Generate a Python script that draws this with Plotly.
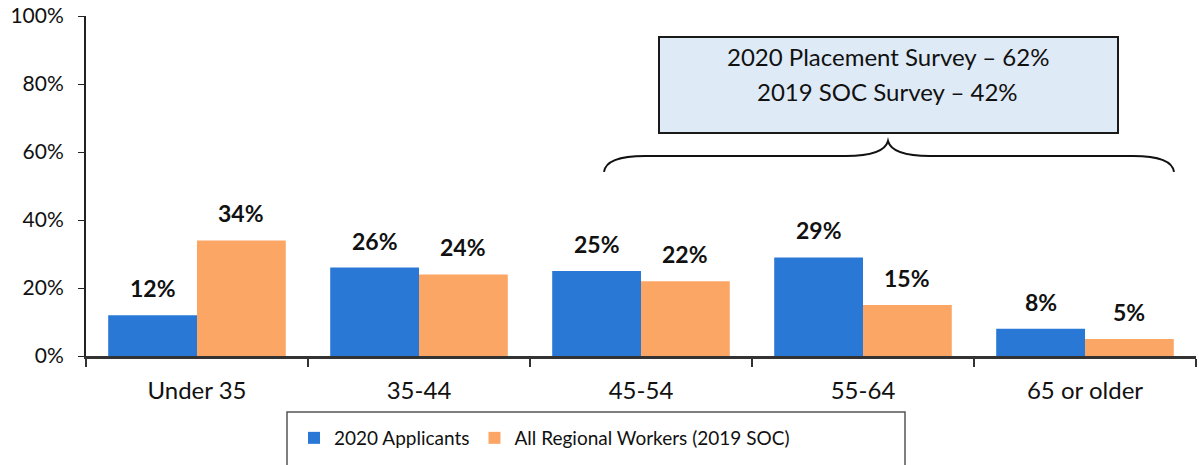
import plotly.graph_objects as go

categories = ["Under 35", "35-44", "45-54", "55-64", "65 or older"]
applicants_2020 = [0.12, 0.26, 0.25, 0.29, 0.08]
regional_2019 = [0.34, 0.24, 0.22, 0.15, 0.05]
series_names = ["2020 Applicants", "All Regional Workers (2019 SOC)"]
callout_lines = ["2020 Placement Survey \u2013 62%", "2019 SOC Survey \u2013 42%"]

BLUE = "#2a78d5"
ORANGE = "#fca666"
FONT = "Lato"

W, H = 1199, 465
L, R, T, B = 86, 1196, 16, 356


def px(x):
    return (x - L) / (R - L)


def py(y):
    return (B - y) / (B - T)


fig = go.Figure()
fig.add_trace(go.Bar(x=categories, y=applicants_2020, name=series_names[0],
                     marker=dict(color=BLUE, line=dict(width=0))))
fig.add_trace(go.Bar(x=categories, y=regional_2019, name=series_names[1],
                     marker=dict(color=ORANGE, line=dict(width=0))))

annotations = []
for i, (a, b) in enumerate(zip(applicants_2020, regional_2019)):
    for off, v in ((-0.2, a), (0.2, b)):
        annotations.append(dict(x=i + off, y=v, xref="x", yref="y",
                                text=f"<b>{round(v * 100)}%</b>", showarrow=False,
                                xanchor="center", yanchor="bottom", yshift=11,
                                font=dict(family=FONT, size=23, color="#111111")))

# callout text
for line, yy in zip(callout_lines, (56, 91)):
    annotations.append(dict(x=px(888), y=py(yy), xref="paper", yref="paper",
                            text=line, showarrow=False, xanchor="center",
                            yanchor="middle",
                            font=dict(family=FONT, size=24, color="#111111")))


def P(x, y):
    return f"{px(x):.5f},{py(y):.5f}"


brace = (f"M{P(604,172)} Q{P(606,156)} {P(645,156)} L{P(846,156)} "
         f"Q{P(884,156)} {P(888,141)} Q{P(892,156)} {P(930,156)} "
         f"L{P(1133,156)} Q{P(1172,156)} {P(1174,172)}")

shapes = [
    dict(type="rect", xref="paper", yref="paper", x0=px(659), x1=px(1118),
         y0=py(133), y1=py(37), fillcolor="#deeaf6",
         line=dict(color="#1a1a1a", width=2), layer="below"),
    dict(type="path", xref="paper", yref="paper", path=brace,
         line=dict(color="#111111", width=2)),
    dict(type="rect", xref="paper", yref="paper", x0=px(287), x1=px(905),
         y0=py(475), y1=py(412), fillcolor="rgba(0,0,0,0)",
         line=dict(color="#555555", width=1.5)),
]

fig.update_layout(
    width=W, height=H,
    margin=dict(l=L, r=W - R, t=T, b=H - B, autoexpand=False),
    paper_bgcolor="white", plot_bgcolor="white",
    barmode="group", bargap=0.2, bargroupgap=0,
    font=dict(family=FONT, color="#111111"),
    showlegend=True,
    legend=dict(orientation="h", x=px(294), y=py(419), xanchor="left", yanchor="top",
                font=dict(family=FONT, size=19, color="#111111"),
                bgcolor="rgba(0,0,0,0)", borderwidth=0, itemwidth=30,
                traceorder="normal"),
    xaxis=dict(type="category", showline=True, linecolor="#333333", linewidth=3,
               ticks="outside", tickson="boundaries", ticklen=8, tickcolor="#333333",
               tickwidth=1.5, showgrid=False, range=[-0.5, 4.5], automargin=False,
               ticklabelstandoff=11,
               tickfont=dict(family=FONT, size=24, color="#111111")),
    yaxis=dict(range=[0, 1], dtick=0.2, tickformat=".0%", showline=True,
               linecolor="#222222", linewidth=2, ticks="outside", ticklen=6,
               tickcolor="#222222", showgrid=False, zeroline=False, automargin=False,
               ticklabelstandoff=10,
               tickfont=dict(family=FONT, size=21, color="#111111")),
    annotations=annotations,
    shapes=shapes,
)

fig.write_html("out.html", config={"displayModeBar": False},
               post_script="document.body.style.margin='0';document.body.style.overflow='hidden';")
